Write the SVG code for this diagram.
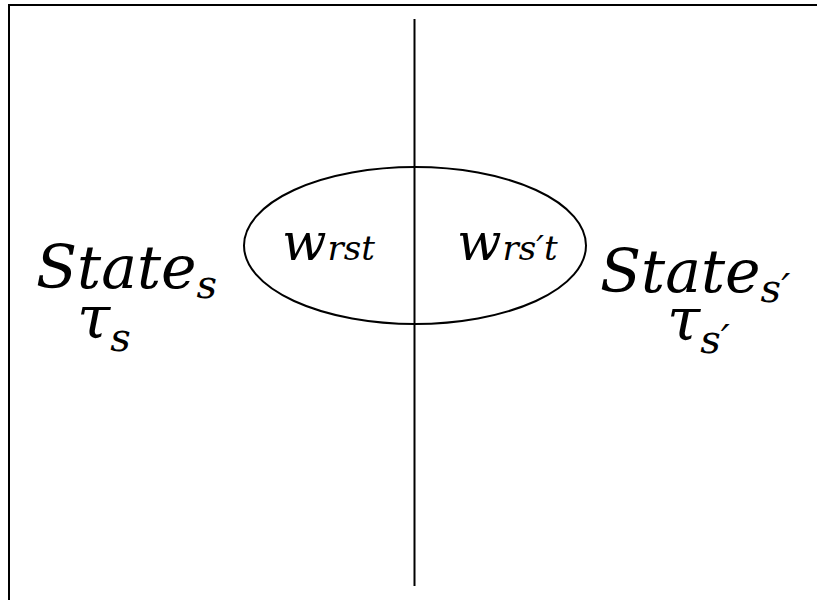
<svg xmlns="http://www.w3.org/2000/svg" width="817" height="600" viewBox="0 0 817 600">
<style>
text{font-family:'DejaVu Serif',serif;font-style:italic;fill:#000}
.big{font-size:60px}
.w{font-size:52px}
.sub{font-size:40px}
.wsub{font-size:34px}
.ln{stroke:#000;stroke-width:2;fill:none}
</style>
<rect width="817" height="600" fill="#fff"/>
<g id="frame">
<path class="ln" d="M9,600 V5 H817"/>
</g>
<g id="connectors">
<line class="ln" x1="414.5" y1="19" x2="414.5" y2="586"/>
</g>
<g id="ellipse">
<ellipse class="ln" cx="415" cy="245.5" rx="171" ry="78.5"/>
</g>
<g id="w-left">
<text class="w" x="282" y="260">w<tspan class="wsub" dx="1">rst</tspan></text>
</g>
<g id="w-right">
<text class="w" x="457" y="260">w<tspan class="wsub" dx="1">rs′t</tspan></text>
</g>
<g id="state-s">
<text class="big" x="36" y="288">State<tspan class="sub" dy="10">s</tspan></text>
<text class="big" x="77" y="338">τ<tspan class="sub" dy="13">s</tspan></text>
</g>
<g id="state-s-prime">
<text class="big" x="600" y="292">State<tspan class="sub" dy="10">s′</tspan></text>
<text class="big" x="667" y="340">τ<tspan class="sub" dy="13">s′</tspan></text>
</g>
</svg>
